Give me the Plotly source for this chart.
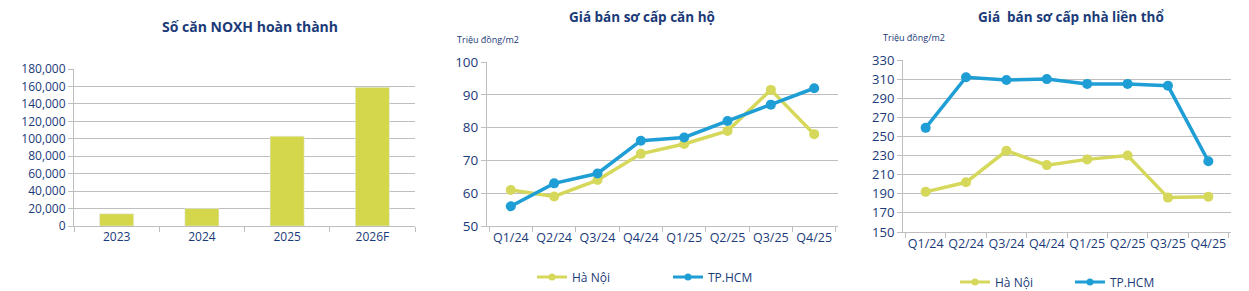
import plotly.graph_objects as go

# ---- data ----
years = ["2023", "2024", "2025", "2026F"]
noxh_units = [14000, 20000, 103000, 159000]

quarters = ["Q1/24", "Q2/24", "Q3/24", "Q4/24", "Q1/25", "Q2/25", "Q3/25", "Q4/25"]
apt_hanoi = [61, 59, 64, 72, 75, 79, 91.5, 78]
apt_hcm = [56, 63, 66, 76, 77, 82, 87, 92]

land_hanoi = [192, 202, 235, 220, 226, 230, 186, 187]
land_hcm = [259, 312, 309, 310, 305, 305, 303, 224]

W, H = 1249, 291
NAVY = "#1B3A78"
YEL_BAR = "#D4D74C"
YEL = "#D5D85A"
BLUE = "#1E9ED5"
GRID = "#BEBEBE"
FONT = "Open Sans"

def px(x):
    return x / W

def py(y):
    return 1 - y / H

fig = go.Figure()

fig.add_trace(go.Bar(x=years, y=noxh_units, marker_color=YEL_BAR, xaxis="x", yaxis="y",
                     showlegend=False))

def line_trace(xs, ys, name, color, xa, ya):
    return go.Scatter(x=xs, y=ys, name=name, mode="lines+markers",
                      line=dict(color=color, width=3.5), marker=dict(size=10, color=color),
                      xaxis=xa, yaxis=ya, showlegend=False)

def legend_trace(name, color, xa, ya, leg):
    return go.Scatter(x=[None], y=[None], name=name, mode="lines+markers",
                      line=dict(color=color, width=3), marker=dict(size=7, color=color),
                      xaxis=xa, yaxis=ya, legend=leg, showlegend=True)

fig.add_trace(line_trace(quarters, apt_hanoi, "Hà Nội", YEL, "x2", "y2"))
fig.add_trace(line_trace(quarters, apt_hcm, "TP.HCM", BLUE, "x2", "y2"))
fig.add_trace(line_trace(quarters, land_hanoi, "Hà Nội", YEL, "x3", "y3"))
fig.add_trace(line_trace(quarters, land_hcm, "TP.HCM", BLUE, "x3", "y3"))

fig.add_trace(legend_trace("Hà Nội", YEL, "x2", "y2", "legend"))
fig.add_trace(legend_trace("TP.HCM", BLUE, "x2", "y2", "legend2"))
fig.add_trace(legend_trace("Hà Nội", YEL, "x3", "y3", "legend3"))
fig.add_trace(legend_trace("TP.HCM", BLUE, "x3", "y3", "legend4"))

def xax(domain, anchor, size=12):
    return dict(domain=domain, anchor=anchor, showgrid=False, showline=True, linecolor=GRID,
                linewidth=1, ticks="outside", ticklen=5, tickcolor=GRID,
                tickfont=dict(family=FONT, size=size, color=NAVY), tickangle=0,
                tickson="boundaries", fixedrange=True, automargin=False)

def yax(domain, anchor, rng, dtick, fmt=None, size=12):
    d = dict(domain=domain, anchor=anchor, range=rng, dtick=dtick, tick0=rng[0],
             showgrid=True, gridcolor=GRID, gridwidth=1, showline=True, linecolor=GRID,
             linewidth=1, ticks="outside", ticklen=5, tickcolor=GRID,
             tickfont=dict(family=FONT, size=size, color=NAVY), zeroline=False,
             fixedrange=True, automargin=False)
    if fmt:
        d["tickformat"] = fmt
    return d

legend_common = dict(orientation="h", bgcolor="rgba(0,0,0,0)",
                     font=dict(family=FONT, size=12, color=NAVY),
                     xanchor="left", yanchor="middle", itemwidth=30)

fig.update_layout(
    width=W, height=H,
    margin=dict(l=0, r=0, t=0, b=0, autoexpand=False),
    paper_bgcolor="white", plot_bgcolor="white",
    bargap=0.6,
    xaxis=xax([px(74), px(415)], "y"),
    yaxis=yax([py(226), py(69)], "x", [0, 180000], 20000, ",d", size=12),
    xaxis2=xax([px(487), px(838)], "y2", size=12.5),
    yaxis2=yax([py(226), py(62)], "x2", [50, 100], 10, size=13.5),
    xaxis3=xax([px(903), px(1231)], "y3", size=12.5),
    yaxis3=yax([py(232), py(60)], "x3", [150, 330], 20, size=13),
    legend=dict(legend_common, x=px(532), y=py(277)),
    legend2=dict(legend_common, x=px(668), y=py(277)),
    legend3=dict(legend_common, x=px(955), y=py(282)),
    legend4=dict(legend_common, x=px(1070), y=py(282)),
    annotations=[
        dict(text="<b>Số căn NOXH hoàn thành</b>", x=px(250), y=py(26), xref="paper",
             yref="paper", showarrow=False, xanchor="center", yanchor="middle",
             font=dict(family=FONT, size=14, color=NAVY)),
        dict(text="<b>Giá bán sơ cấp căn hộ</b>", x=px(642), y=py(17), xref="paper",
             yref="paper", showarrow=False, xanchor="center", yanchor="middle",
             font=dict(family=FONT, size=13.5, color=NAVY)),
        dict(text="<b>Giá  bán sơ cấp nhà liền thổ</b>", x=px(1071), y=py(17), xref="paper",
             yref="paper", showarrow=False, xanchor="center", yanchor="middle",
             font=dict(family=FONT, size=13.5, color=NAVY)),
        dict(text="Triệu đồng/m2", x=px(455), y=py(40), xref="paper", yref="paper",
             showarrow=False, xanchor="left", yanchor="middle",
             font=dict(family=FONT, size=9, color=NAVY)),
        dict(text="Triệu đồng/m2", x=px(881), y=py(38), xref="paper", yref="paper",
             showarrow=False, xanchor="left", yanchor="middle",
             font=dict(family=FONT, size=9, color=NAVY)),
    ],
)

fig.write_html("out.html")
